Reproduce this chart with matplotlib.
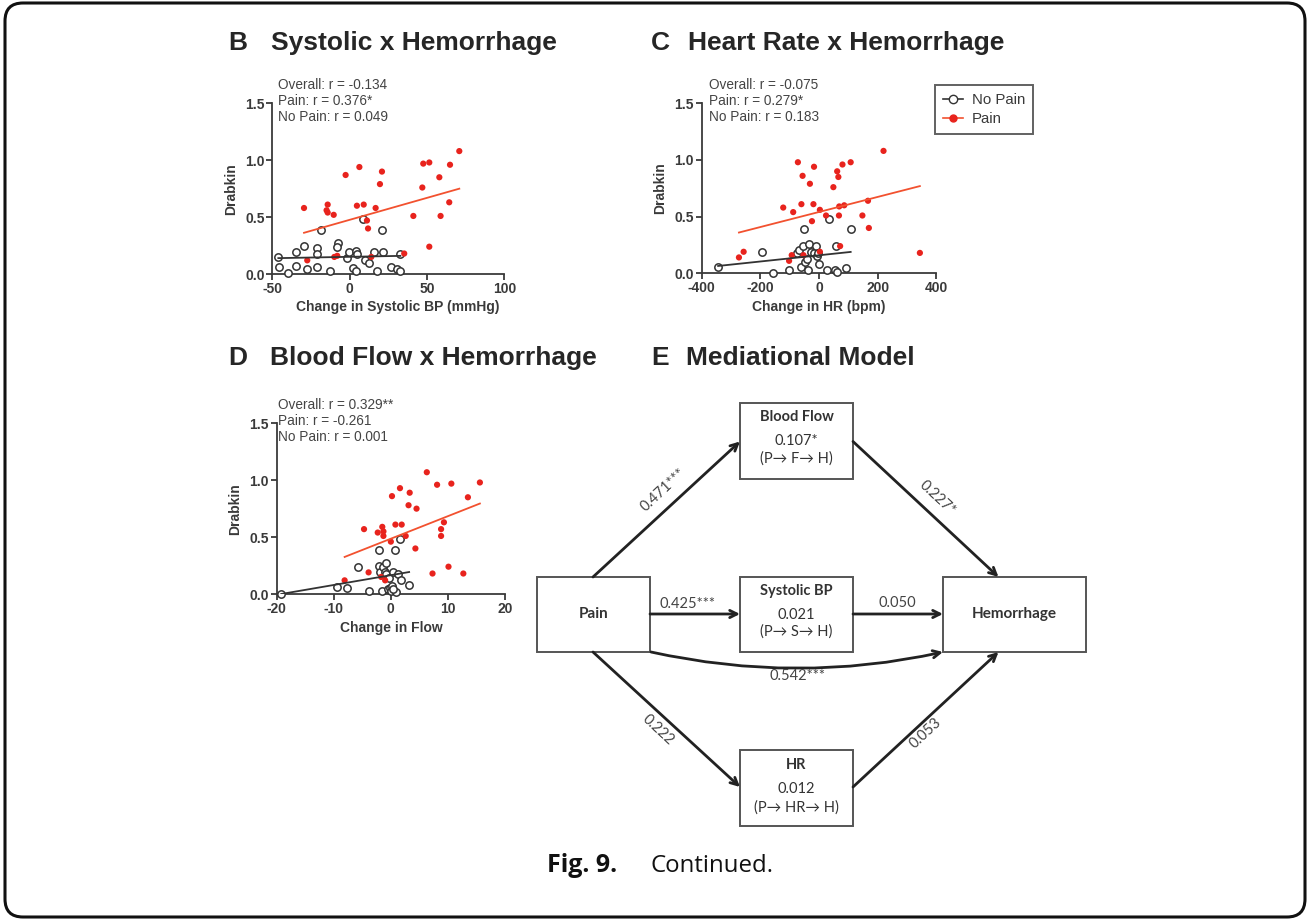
import matplotlib
matplotlib.use("Agg")
import matplotlib.pyplot as plt
from matplotlib.lines import Line2D
from matplotlib.patches import Rectangle, FancyBboxPatch
import numpy as np

W, H = 1310, 919

# ---------------- data ----------------
# Panel B: change in systolic BP vs Drabkin
sbp_pain_x = [-29.5, -2.6, 6.3, -14.2, -14.9, -14.2, -10.3, 4.7, 9.1, 11.2, 11.9, 16.8, 19.6, 20.9,
              -27.4, -9.9, -8.0, 14.0, 35.3, 41.2, 47.0, 47.6, 51.5, 51.5, 58.0, 58.8, 64.4, 64.9, 70.9]
sbp_pain_y = [0.58, 0.87, 0.94, 0.61, 0.56, 0.54, 0.52, 0.60, 0.61, 0.47, 0.40, 0.58, 0.79, 0.90,
              0.12, 0.15, 0.16, 0.15, 0.18, 0.51, 0.76, 0.97, 0.98, 0.24, 0.85, 0.51, 0.63, 0.96, 1.08]
sbp_nopain_x = [-46.1, -45.5, -39.7, -34.7, -34.7, -29.5, -27.8, -21.1, -21.1, -21.1, -18.5, -12.7,
                -7.3, -8.0, -1.9, -0.2, 2.4, 3.9, 3.9, 5.0, 8.4, 9.9, 12.5, 15.7, 17.5, 20.9, 21.8,
                26.5, 30.8, 32.5, 32.8]
sbp_nopain_y = [0.15, 0.06, 0.01, 0.07, 0.19, 0.25, 0.04, 0.06, 0.23, 0.18, 0.39, 0.03,
                0.27, 0.24, 0.14, 0.19, 0.05, 0.03, 0.20, 0.18, 0.48, 0.12, 0.10, 0.19, 0.03, 0.39, 0.19,
                0.06, 0.04, 0.03, 0.18]
sbp_fit_pain = (0.00386, 0.476)      # slope, intercept
sbp_fit_nopain = (0.00025, 0.151)
sbp_stats = ["Overall: r = -0.134", "Pain: r = 0.376*", "No Pain: r = 0.049"]

# Panel C: change in heart rate vs Drabkin
hr_pain_x = [-273, -257, -122, -88, -72, -60, -56, -31, -19, -17, -24, 3, 24, 49, 62, 66, 68, 69,
             80, 86, 108, 148, 167, 170, 220, 344, -102, -93, 72, 3, -53]
hr_pain_y = [0.14, 0.19, 0.58, 0.54, 0.98, 0.61, 0.86, 0.79, 0.61, 0.94, 0.46, 0.56, 0.51, 0.76,
             0.90, 0.85, 0.51, 0.59, 0.96, 0.60, 0.98, 0.51, 0.64, 0.40, 1.08, 0.18, 0.11, 0.16,
             0.24, 0.19, 0.16]
hr_nopain_x = [-344, -194, -157, -101, -76, -68, -63, -56, -51, -47, -42, -39, -33, -26, -18, -10,
               -6, 1, -5, 28, 33, 56, 62, 58, 92, 108]
hr_nopain_y = [0.06, 0.19, 0.00, 0.03, 0.18, 0.21, 0.06, 0.24, 0.39, 0.10, 0.13, 0.03, 0.26, 0.19,
               0.18, 0.24, 0.15, 0.08, 0.18, 0.03, 0.48, 0.03, 0.01, 0.24, 0.05, 0.39]
hr_fit_pain = (0.000664, 0.541)
hr_fit_nopain = (0.000274, 0.159)
hr_stats = ["Overall: r = -0.075", "Pain: r = 0.279*", "No Pain: r = 0.183"]

# Panel D: change in blood flow vs Drabkin
flow_pain_x = [-8.1, -4.7, -3.9, -2.3, -1.5, -1.3, -1.3, -1.7, -1.0, 0.0, 0.2, 0.8, 1.6, 1.9, 3.1,
               3.3, 2.6, 4.5, 4.3, 6.3, 7.3, 8.1, 8.8, 8.8, 9.3, 10.1, 10.6, 12.7, 13.5, 15.6]
flow_pain_y = [0.12, 0.57, 0.19, 0.54, 0.59, 0.55, 0.51, 0.15, 0.12, 0.46, 0.86, 0.61, 0.93, 0.61,
               0.78, 0.89, 0.51, 0.75, 0.40, 1.07, 0.18, 0.96, 0.57, 0.51, 0.63, 0.24, 0.97, 0.18,
               0.85, 0.98]
flow_nopain_x = [-19.2, -9.5, -7.7, -5.8, -3.9, -2.0, -2.0, -1.9, -1.5, -1.3, -1.1, -0.9, -0.8,
                 -0.5, -0.3, -0.1, 0.0, 0.2, 0.4, 0.7, 0.9, 1.2, 1.6, 1.8, 3.2, 0.4]
flow_nopain_y = [0.00, 0.06, 0.05, 0.24, 0.03, 0.39, 0.25, 0.19, 0.03, 0.24, 0.19, 0.27, 0.18,
                 0.04, 0.14, 0.05, 0.03, 0.07, 0.19, 0.39, 0.02, 0.18, 0.48, 0.12, 0.08, 0.04]
flow_fit_pain = (0.0198, 0.486)
flow_fit_nopain = (0.00862, 0.1655)
flow_stats = ["Overall: r = 0.329**", "Pain: r = -0.261", "No Pain: r = 0.001"]

y_ticks = [0.0, 0.5, 1.0, 1.5]

# Panel E: mediation path coefficients
med_paths = {
    "pain_flow": "0.471***", "flow_hem": "0.227*",
    "pain_sbp": "0.425***", "sbp_hem": "0.050",
    "pain_hem": "0.542***",
    "pain_hr": "0.222", "hr_hem": "0.053",
}
med_nodes = {
    "flow": ("Blood Flow", "0.107*", "(P\u2192 F\u2192 H)"),
    "sbp": ("Systolic BP", "0.021", "(P\u2192 S\u2192 H)"),
    "hr": ("HR", "0.012", "(P\u2192 HR\u2192 H)"),
}

# ---------------- styling ----------------
RED = "#e8231d"
RED_LINE = "#f2512f"
DARK = "#3a3a3a"
SANS = ["Liberation Sans", "DejaVu Sans"]
CAL = ["Lato", "DejaVu Sans"]

plt.rcParams["font.family"] = SANS
plt.rcParams["axes.unicode_minus"] = False

fig = plt.figure(figsize=(W / 100, H / 100), dpi=100)
fig.patch.set_facecolor("white")

# full-figure overlay in pixel coordinates (y downwards)
ov = fig.add_axes([0, 0, 1, 1])
ov.set_xlim(0, W)
ov.set_ylim(H, 0)
ov.axis("off")

ov.add_patch(FancyBboxPatch((5, 3), 1300, 914, boxstyle="round,pad=0,rounding_size=18",
                            fill=False, lw=2.2, ec="#111111"))


def px_axes(x0, x1, y0, y1):
    """Axes rectangle from pixel positions of the axis ends (left, right, bottom, top)."""
    return [x0 / W, 1 - y0 / H, (x1 - x0) / W, (y0 - y1) / H]


def scatter_panel(rect, px_, py_, nx_, ny_, fit_p, fit_n, xlim, xticks, xlabel, stats, stat_xy):
    ax = fig.add_axes(rect)
    ax.set_xlim(*xlim)
    ax.set_ylim(0, 1.5)
    for s in ["top", "right"]:
        ax.spines[s].set_visible(False)
    for s in ["left", "bottom"]:
        ax.spines[s].set_color(DARK)
        ax.spines[s].set_linewidth(1.3)
    ax.set_xticks(xticks)
    ax.set_yticks(y_ticks)
    ax.set_yticklabels([f"{v:.1f}" for v in y_ticks])
    ax.tick_params(direction="out", length=4, width=1.3, color=DARK, labelcolor=DARK,
                   labelsize=10, pad=1.5)
    for lab in ax.get_xticklabels() + ax.get_yticklabels():
        lab.set_fontweight("bold")
    ax.set_xlabel(xlabel, fontsize=10, fontweight="bold", color=DARK, labelpad=4)
    ax.set_ylabel("Drabkin", fontsize=10, fontweight="bold", color=DARK, labelpad=5)
    ax.patch.set_alpha(0)

    ax.scatter(nx_, ny_, s=28, facecolors="white", edgecolors="#333333", linewidths=1.1,
               zorder=3, clip_on=False)
    ax.scatter(px_, py_, s=20, color=RED, edgecolors="none", zorder=4, clip_on=False)

    for (xs, fit, col) in [(nx_, fit_n, "#333333"), (px_, fit_p, RED_LINE)]:
        xr = np.array([min(xs), max(xs)])
        ax.plot(xr, fit[0] * xr + fit[1], color=col, lw=1.3, zorder=5)

    for i, s in enumerate(stats):
        ov.text(stat_xy[0], stat_xy[1] + i * 16, s, fontsize=9.8, color="#444444",
                ha="left", va="center")
    return ax


axB = scatter_panel(px_axes(272.3, 504.3, 274, 103.3), sbp_pain_x, sbp_pain_y,
                    sbp_nopain_x, sbp_nopain_y, sbp_fit_pain, sbp_fit_nopain,
                    (-50, 100), [-50, 0, 50, 100], "Change in Systolic BP (mmHg)",
                    sbp_stats, (278, 85))
axB.xaxis.set_label_coords(0.54, -0.155)
axC = scatter_panel(px_axes(701.7, 936.3, 273.3, 103.3), hr_pain_x, hr_pain_y,
                    hr_nopain_x, hr_nopain_y, hr_fit_pain, hr_fit_nopain,
                    (-400, 400), [-400, -200, 0, 200, 400], "Change in HR (bpm)",
                    hr_stats, (709, 85))
axD = scatter_panel(px_axes(276.7, 505, 594, 423.3), flow_pain_x, flow_pain_y,
                    flow_nopain_x, flow_nopain_y, flow_fit_pain, flow_fit_nopain,
                    (-20, 20), [-20, -10, 0, 10, 20], "Change in Flow",
                    flow_stats, (278, 405))

# legend for panel C
handles = [Line2D([], [], color="#333333", lw=1.2, marker="o", markersize=6,
                  markerfacecolor="white", markeredgecolor="#333333"),
           Line2D([], [], color=RED_LINE, lw=1.2, marker="o", markersize=5,
                  markerfacecolor=RED, markeredgecolor=RED)]
leg = fig.legend(handles, ["No Pain", "Pain"], loc="upper left",
                 bbox_to_anchor=(935 / W, 1 - 85 / H), frameon=True, fancybox=False,
                 fontsize=10.8, handlelength=1.3, handletextpad=0.6, borderpad=0.55,
                 labelspacing=0.3, borderaxespad=0)
leg.get_frame().set_edgecolor(DARK)
leg.get_frame().set_linewidth(1.4)
for t in leg.get_texts():
    t.set_color(DARK)

# panel titles
title_kw = dict(fontsize=19, fontweight="bold", color="#262626", va="baseline")
for letter, lx, tx, ty, txt in [("B", 228, 271, 50, "Systolic x Hemorrhage"),
                                ("C", 651, 688, 50, "Heart Rate x Hemorrhage"),
                                ("D", 228, 270, 365, "Blood Flow x Hemorrhage"),
                                ("E", 651, 686, 365, "Mediational Model")]:
    ov.text(lx, ty, letter, **title_kw)
    ov.text(tx, ty, txt, **title_kw)

# ---------------- mediation diagram ----------------
BOX_EC = "#555555"
TXT = "#333333"
ARW = "#222222"


def box(x0, y0, x1, y1):
    ov.add_patch(Rectangle((x0, y0), x1 - x0, y1 - y0, fill=True, fc="white",
                           ec=BOX_EC, lw=1.4, zorder=2))


def arrow(p0, p1, rad=0.0):
    ov.annotate("", xy=p1, xytext=p0,
                arrowprops=dict(arrowstyle="->", lw=2.0, color=ARW, shrinkA=0, shrinkB=0,
                                mutation_scale=13, connectionstyle=f"arc3,rad={rad}"),
                zorder=3)


box(537, 577, 650, 652)       # Pain
box(740, 403, 853, 479)       # Blood Flow
box(740, 577, 853, 652)       # Systolic BP
box(740, 750, 853, 826)       # HR
box(943, 577, 1086, 652)      # Hemorrhage

ov.text(593.5, 614, "Pain", fontsize=11, fontweight="bold", color=TXT, ha="center",
        va="center", family=CAL, zorder=4)
ov.text(1014.5, 614, "Hemorrhage", fontsize=11, fontweight="bold", color=TXT, ha="center",
        va="center", family=CAL, zorder=4)

for key, ys in [("flow", (417, 441, 459)), ("sbp", (591, 615, 632)), ("hr", (765, 789, 808))]:
    name, val, path = med_nodes[key]
    ov.text(796.5, ys[0], name, fontsize=10.5, fontweight="bold", color=TXT, ha="center",
            va="center", family=CAL, zorder=4)
    ov.text(796.5, ys[1], val, fontsize=10.5, color=TXT, ha="center", va="center",
            family=CAL, zorder=4)
    ov.text(796.5, ys[2], path, fontsize=10.5, color=TXT, ha="center", va="center",
            family=CAL, zorder=4)

arrow((593, 577), (740, 441.5))
arrow((853, 441.5), (998.5, 577))
arrow((650, 614), (740, 614))
arrow((853, 614), (943, 614))
arrow((651, 652), (943, 652), rad=0.11)
arrow((593, 652), (740, 787))
arrow((853, 787), (998.5, 652))

lab_kw = dict(fontsize=10.5, color="#444444", ha="center", va="center", family=CAL)
ov.text(663, 490, med_paths["pain_flow"], rotation=43, **lab_kw)
ov.text(937, 498, med_paths["flow_hem"], rotation=-43, **lab_kw)
ov.text(687, 604, med_paths["pain_sbp"], **lab_kw)
ov.text(897, 603, med_paths["sbp_hem"], **lab_kw)
ov.text(798, 676, med_paths["pain_hem"], **lab_kw)
ov.text(658, 730, med_paths["pain_hr"], rotation=-43, **lab_kw)
ov.text(926, 733, med_paths["hr_hem"], rotation=43, **lab_kw)

# caption
ov.text(547, 866, "Fig. 9.", fontsize=18, fontweight="bold", color="#111111", ha="left",
        va="center", family=["Open Sans", "DejaVu Sans"])
ov.text(650, 866, "Continued.", fontsize=17.3, color="#111111", ha="left", va="center",
        family=["Open Sans", "DejaVu Sans"])

fig.savefig("out.png", dpi=100, facecolor="white")
